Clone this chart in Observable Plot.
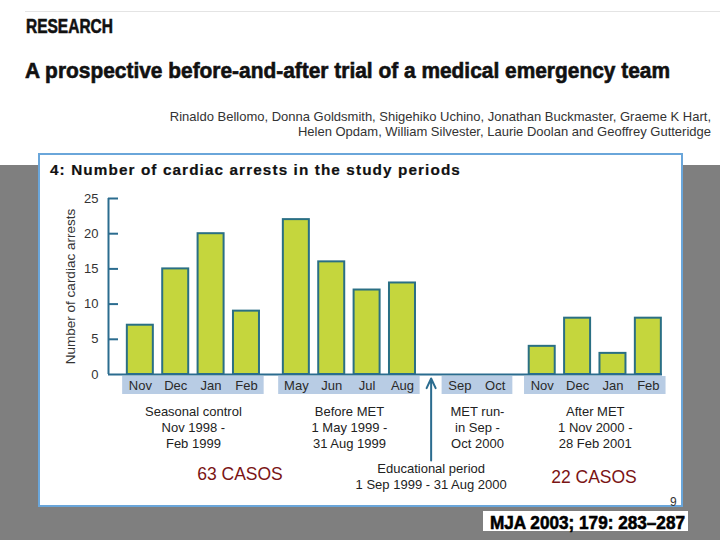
<!DOCTYPE html>
<html>
<head>
<meta charset="utf-8">
<script src="https://cdn.jsdelivr.net/npm/d3@7"></script>
<script src="https://cdn.jsdelivr.net/npm/@observablehq/plot@0.6"></script>
<style>
html, body { margin: 0; padding: 0; background: #fff; }
#page { position: relative; width: 720px; height: 540px; overflow: hidden; font-family: "Liberation Sans", Arial, sans-serif; }
.abs { position: absolute; white-space: nowrap; line-height: 1; }
.cond { font-family: "Liberation Sans", Arial, sans-serif; font-weight: bold; transform-origin: 0 0; -webkit-text-stroke: 0.6px currentColor; }
#topline { left: 25px; top: 11px; width: 695px; height: 1px; background: #e4e4e4; }
#section { left: 26px; top: 14.5px; font-size: 21px; color: #111; }
#headline { left: 25px; top: 60.5px; font-size: 21.5px; color: #111; }
#authors { right: 9px; top: 109px; font-size: 13px; color: #333; text-align: right; line-height: 15px; }
#gray { left: 0; top: 165px; width: 720px; height: 375px; background: #7f7f7f; }
#card { left: 38px; top: 153px; width: 645px; height: 354px; box-sizing: border-box; border: 2px solid #6aa6da; background: #fff; }
#charttitle { left: 50px; top: 162px; font-weight: bold; font-size: 15.3px; letter-spacing: 1.1px; color: #111; -webkit-text-stroke: 0.2px #111; }
#chart { left: 38px; top: 153px; }
.casos { top: 466px; font-size: 17.5px; color: #7a1414; transform: translateX(-50%); }
#pagenum { left: 670px; top: 496px; font-size: 12px; color: #333; }
#mja { left: 483px; top: 511px; width: 205px; height: 20px; background: #fff; }
#mjatext { left: 490px; top: 513px; font-size: 19px; color: #000; }
</style>
</head>
<body>
<div id="page">
  <div id="topline" class="abs"></div>
  <div id="section" class="abs cond"></div>
  <div id="headline" class="abs cond"></div>
  <div id="authors" class="abs"></div>
  <div id="gray" class="abs"></div>
  <div id="card" class="abs"></div>
  <div id="charttitle" class="abs"></div>
  <div id="chart" class="abs"></div>
  <div id="casos1" class="abs casos" style="left:240px"></div>
  <div id="casos2" class="abs casos" style="left:594px; top:469px"></div>
  <div id="pagenum" class="abs"></div>
  <div id="mja" class="abs"></div>
  <div id="mjatext" class="abs cond"></div>
</div>
<script>
// ---------- data ----------
const sectionLabel = "RESEARCH";
const headline = "A prospective before-and-after trial of a medical emergency team";
const authorLines = [
  "Rinaldo Bellomo, Donna Goldsmith, Shigehiko Uchino, Jonathan Buckmaster, Graeme K Hart,",
  "Helen Opdam, William Silvester, Laurie Doolan and Geoffrey Gutteridge"
];
const chartTitle = "4: Number of cardiac arrests in the study periods";
const yLabel = "Number of cardiac arrests";
const months = ["Nov", "Dec", "Jan", "Feb", "May", "Jun", "Jul", "Aug", "Sep", "Oct", "Nov", "Dec", "Jan", "Feb"];
const monthPeriod = [0, 0, 0, 0, 1, 1, 1, 1, 2, 2, 3, 3, 3, 3];
const arrests = [7, 15, 20, 9, 22, 16, 12, 13, null, null, 4, 8, 3, 8];
const periodLabels = [
  ["Seasonal control", "Nov 1998 -", "Feb 1999"],
  ["Before MET", "1 May 1999 -", "31 Aug 1999"],
  ["MET run-", "in Sep -", "Oct 2000"],
  ["After MET", "1 Nov 2000 -", "28 Feb 2001"]
];
const eduLabel = ["Educational period", "1 Sep 1999 - 31 Aug 2000"];
const yTicks = [0, 5, 10, 15, 20, 25];
const caseTotals = ["63 CASOS", "22 CASOS"];
const pageNumber = "9";
const citation = "MJA 2003; 179: 283\u2013287";

// ---------- text ----------
document.getElementById("section").textContent = sectionLabel;
document.getElementById("headline").textContent = headline;
document.getElementById("authors").innerHTML = authorLines.join("<br>");
document.getElementById("charttitle").textContent = chartTitle;
document.getElementById("casos1").textContent = caseTotals[0];
document.getElementById("casos2").textContent = caseTotals[1];
document.getElementById("pagenum").textContent = pageNumber;
document.getElementById("mjatext").textContent = citation;

// condensed display type: squeeze bold text to the reference widths
function condense(id, targetWidth) {
  const el = document.getElementById(id);
  const w = el.getBoundingClientRect().width;
  el.style.transform = `scaleX(${targetWidth / w})`;
}
condense("section", 87);
condense("headline", 645);
condense("mjatext", 195);

// ---------- layout ----------
const periodGapOffset = [0, 0.41, 1.03, 1.36]; // extra space (in month slots) before each period
const rows = months.map((m, i) => ({
  month: m,
  period: monthPeriod[i],
  value: arrests[i],
  pos: i + periodGapOffset[monthPeriod[i]]
}));
const periods = periodLabels.map((lines, p) => {
  const ps = rows.filter(r => r.period === p).map(r => r.pos);
  const lo = d3.min(ps), hi = d3.max(ps);
  return {lines, x1: lo - 0.5, x2: hi + 0.5, center: (lo + hi) / 2};
});
const augPos = rows[7].pos, sepPos = rows[8].pos;
const arrowPos = (augPos + sepPos) / 2;

const W = 645, H = 354, mt = 45, mb = 133, ml = 70, mr = 21;
const ppu = (H - mt - mb) / 25;
const px2y = p => -p / ppu;
const lastPos = rows[rows.length - 1].pos;
const xDomain = [-0.9, lastPos + 0.4];
const slot = (W - ml - mr) / (xDomain[1] - xDomain[0]);
const tickLen = 10 / slot;
const barHalf = 13 / slot;

const axisColor = "#2b6c8f";
const font = "Liberation Sans, Arial, sans-serif";

const chart = Plot.plot({
  width: W, height: H,
  marginTop: mt, marginBottom: mb, marginLeft: ml, marginRight: mr,
  x: {type: "linear", domain: xDomain, axis: null},
  y: {domain: [0, 25], axis: null},
  style: {background: "transparent", fontFamily: font, overflow: "visible"},
  marks: [
    Plot.rect(periods, {x1: "x1", x2: "x2", y1: px2y(2), y2: px2y(20), fill: "#b8cce4"}),
    Plot.text(rows, {x: "pos", y: 0, text: "month", dy: 11, fontSize: 13, fill: "#2a2a2a"}),
    Plot.text(periods, {x: "center", y: 0, text: d => d.lines.join("\n"), dy: 30, lineAnchor: "top", lineHeight: 1.23, fontSize: 13, fill: "#222"}),
    Plot.rect(rows.filter(d => d.value != null), {
      x1: d => d.pos - barHalf, x2: d => d.pos + barHalf, y1: 0, y2: "value",
      fill: "#c5d63d", stroke: "#2a6f84", strokeWidth: 2
    }),
    Plot.ruleY([0], {stroke: axisColor, strokeWidth: 2}),
    Plot.ruleX([xDomain[0]], {y1: 0, y2: 25, stroke: axisColor, strokeWidth: 2}),
    Plot.ruleY(yTicks.filter(t => t > 0), {y: d => d, x1: xDomain[0], x2: xDomain[0] + tickLen, stroke: axisColor, strokeWidth: 2}),
    Plot.text(yTicks, {x: xDomain[0], y: d => d, text: d => String(d), dx: -10, textAnchor: "end", fontSize: 13, fill: "#333"}),
    Plot.text([yLabel], {frameAnchor: "left", textAnchor: "middle", rotate: -90, dx: -38, fontSize: 13.5, fill: "#333"}),
    Plot.arrow([arrowPos], {x1: d => d, x2: d => d, y1: px2y(86), y2: px2y(4), stroke: axisColor, strokeWidth: 2, headLength: 8, headAngle: 50}),
    Plot.text([eduLabel.join("\n")], {x: arrowPos, y: 0, dy: 88, lineAnchor: "top", lineHeight: 1.18, fontSize: 13, fill: "#222"})
  ]
});
document.getElementById("chart").appendChild(chart);
</script>
</body>
</html>
